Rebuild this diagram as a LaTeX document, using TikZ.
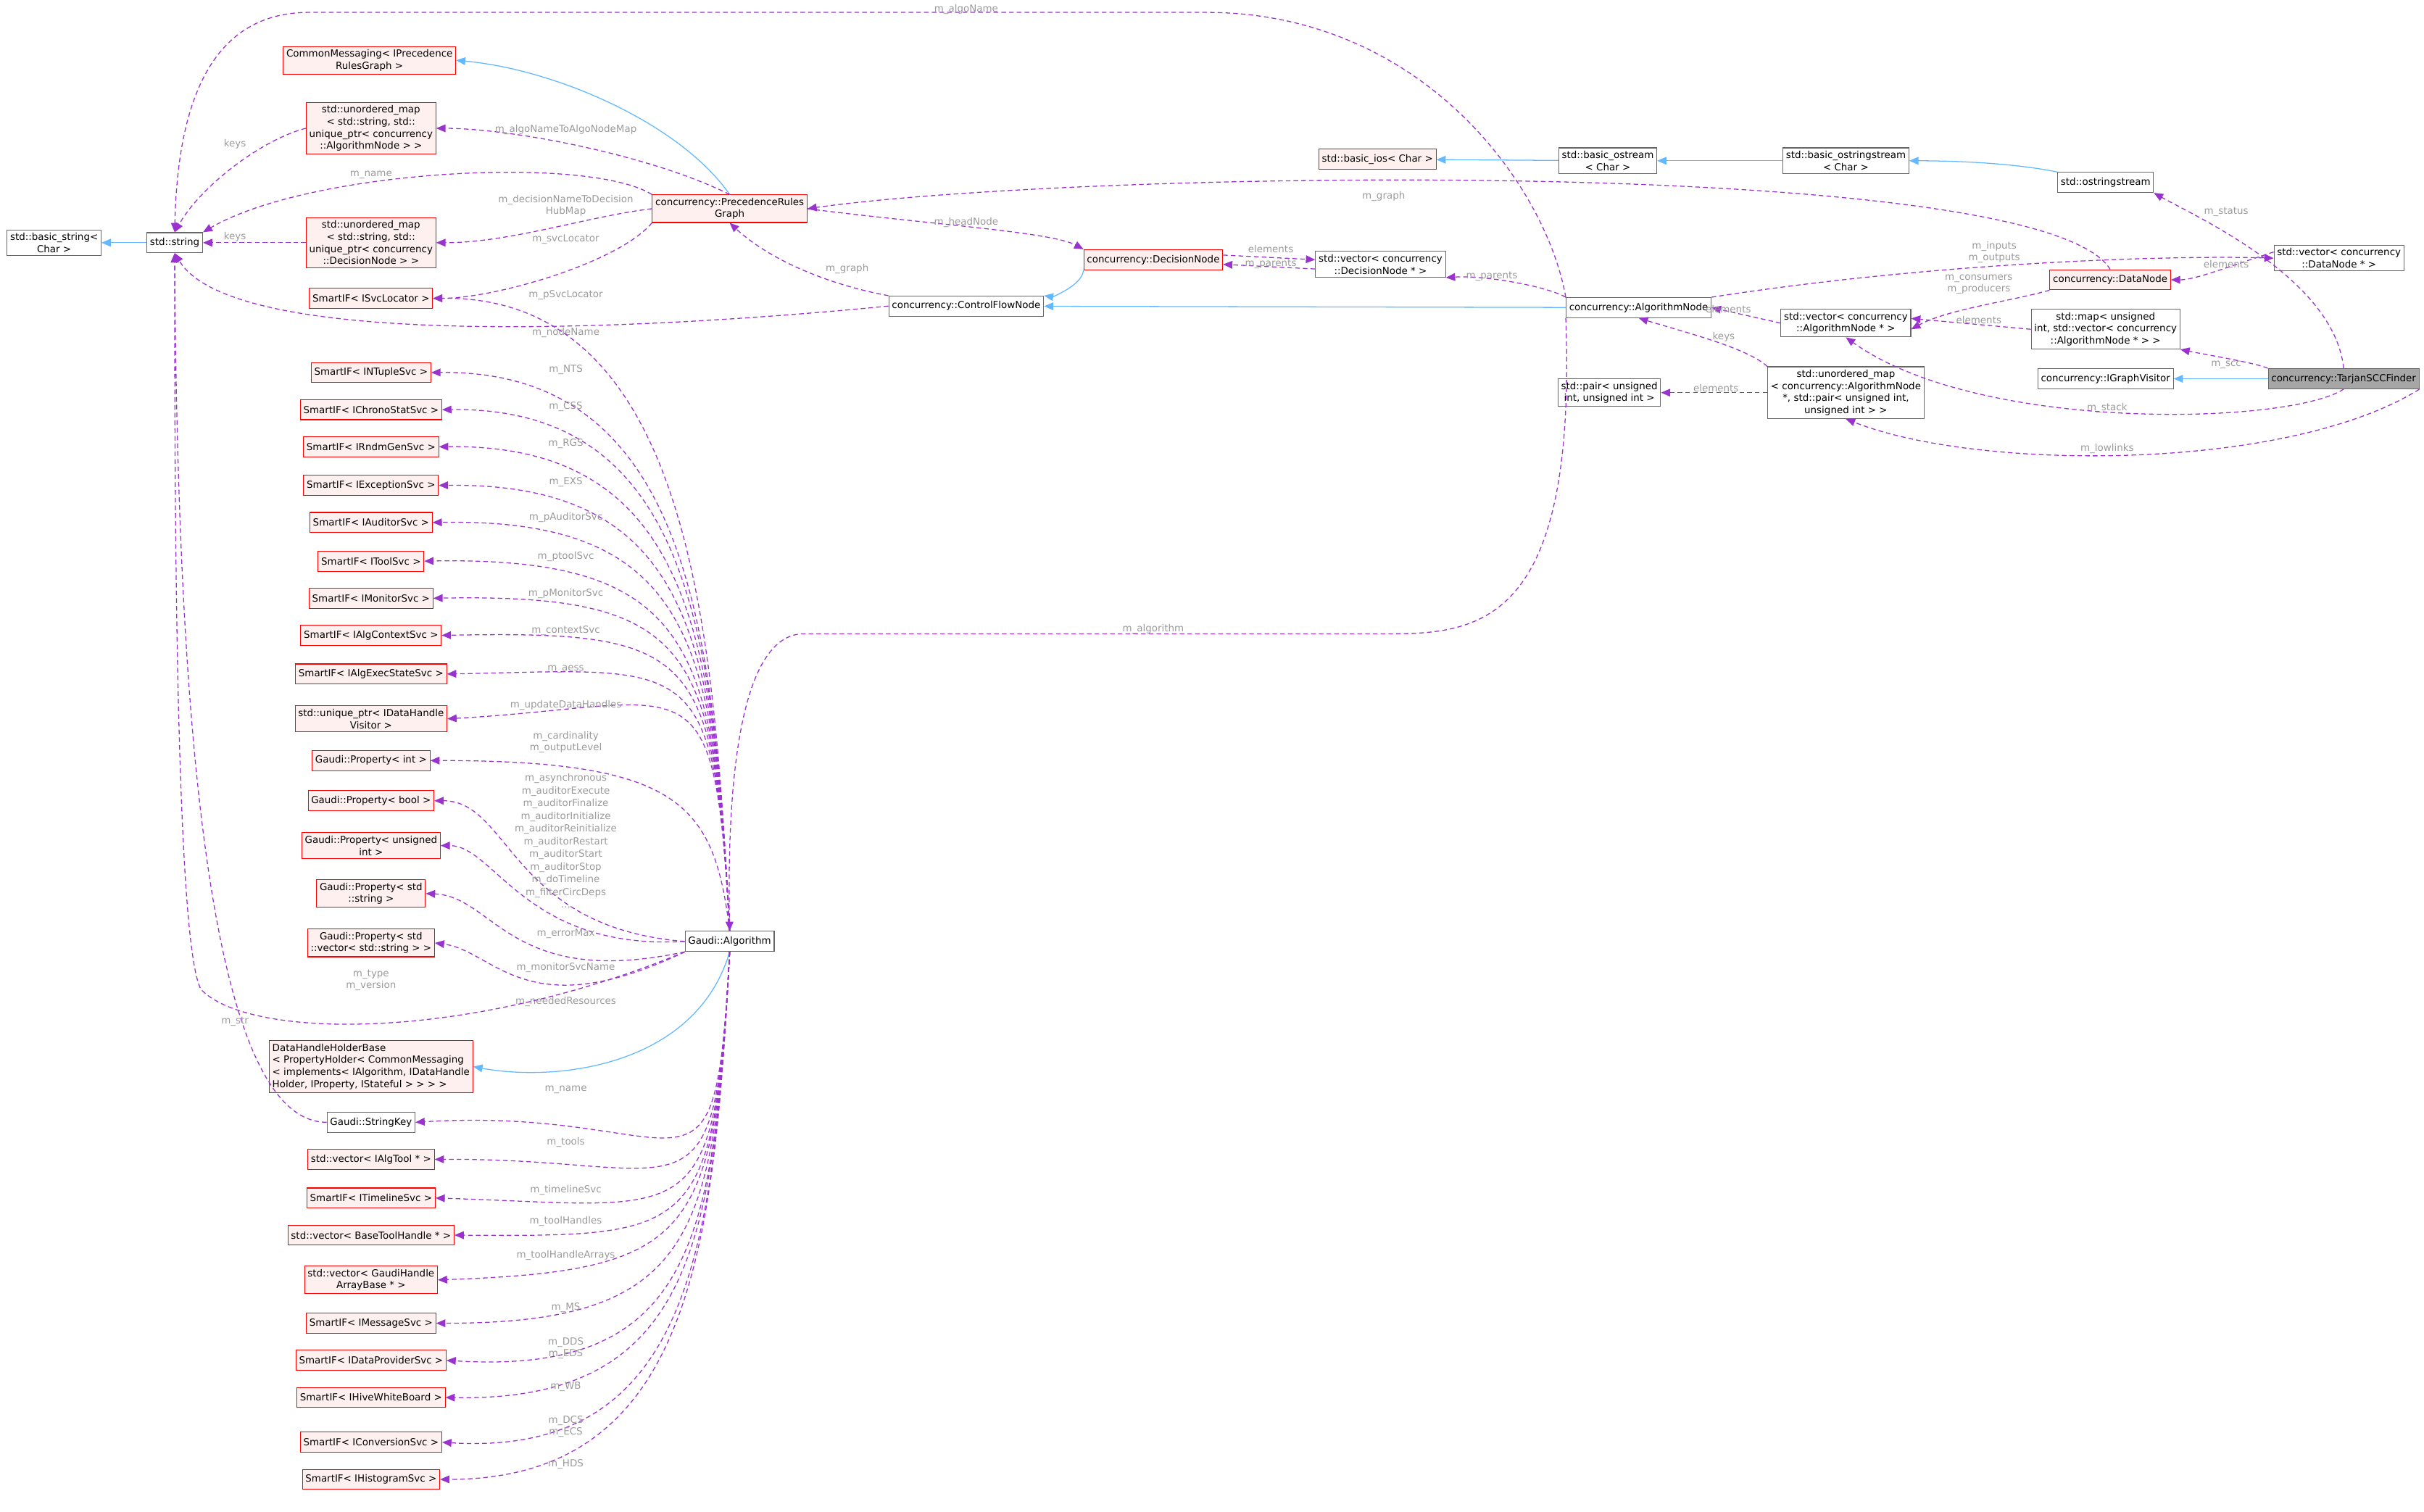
\documentclass[tikz,border=0pt]{standalone}
\usepackage{fontspec}
\setmainfont{DejaVu Sans}
\usetikzlibrary{arrows.meta}
\definecolor{rb}{HTML}{FF0000}
\definecolor{rf}{HTML}{FFF0F0}
\definecolor{gb}{HTML}{666666}
\definecolor{inh}{HTML}{63B8FF}
\definecolor{pu}{HTML}{9A32CD}
\definecolor{lg}{HTML}{9A9A9A}
\tikzset{
 base/.style={draw,line width=0.5pt,inner sep=2pt,minimum height=13pt,align=center,font=\fontsize{6.3}{7.8}\selectfont},
 rbox/.style={base,draw=rb,fill=rf},
 bbox/.style={base,draw=gb,fill=white},
 gbox/.style={base,draw=gb,fill=gray!70},
 inhe/.style={draw=inh,line width=0.6pt,-{Triangle[length=6pt,width=5pt,fill=inh]}},
 dep/.style={draw=pu,line width=0.6pt,dashed,dash pattern=on 3pt off 2pt,-{Triangle[length=6pt,width=5pt,fill=pu]}},
 lbl/.style={text=lg,inner sep=0pt,align=center,font=\fontsize{6.3}{7.6}\selectfont}
}
\begin{document}
\begin{tikzpicture}[x=1pt,y=-1pt]
\useasboundingbox (0,0) rectangle (1568,978);
% left column
\node[bbox] (bstr) at (35,157) {std::basic\_string\textless\\Char \textgreater};
\node[bbox] (str) at (113,157) {std::string};
\node[rbox] (cm) at (239,39) {CommonMessaging\textless{} IPrecedence\\RulesGraph \textgreater};
\node[rbox] (uma) at (240,83) {std::unordered\_map\\\textless{} std::string, std::\\unique\_ptr\textless{} concurrency\\::AlgorithmNode \textgreater{} \textgreater};
\node[rbox] (umd) at (240,157) {std::unordered\_map\\\textless{} std::string, std::\\unique\_ptr\textless{} concurrency\\::DecisionNode \textgreater{} \textgreater};
\node[rbox] (svcl) at (240,193) {SmartIF\textless{} ISvcLocator \textgreater};
\node[rbox] (nts) at (240,241) {SmartIF\textless{} INTupleSvc \textgreater};
\node[rbox] (css) at (240,265) {SmartIF\textless{} IChronoStatSvc \textgreater};
\node[rbox] (rgs) at (240,289) {SmartIF\textless{} IRndmGenSvc \textgreater};
\node[rbox] (exs) at (240,314) {SmartIF\textless{} IExceptionSvc \textgreater};
\node[rbox] (aud) at (240,338) {SmartIF\textless{} IAuditorSvc \textgreater};
\node[rbox] (tool) at (240,363) {SmartIF\textless{} IToolSvc \textgreater};
\node[rbox] (mon) at (240,387) {SmartIF\textless{} IMonitorSvc \textgreater};
\node[rbox] (ctx) at (240,411) {SmartIF\textless{} IAlgContextSvc \textgreater};
\node[rbox] (aess) at (240,436) {SmartIF\textless{} IAlgExecStateSvc \textgreater};
\node[rbox] (udh) at (240,465) {std::unique\_ptr\textless{} IDataHandle\\Visitor \textgreater};
\node[rbox] (pint) at (240,492) {Gaudi::Property\textless{} int \textgreater};
\node[rbox] (pbool) at (240,518) {Gaudi::Property\textless{} bool \textgreater};
\node[rbox] (puns) at (240,547) {Gaudi::Property\textless{} unsigned\\int \textgreater};
\node[rbox] (pstr) at (240,578) {Gaudi::Property\textless{} std\\::string \textgreater};
\node[rbox] (pvec) at (240,610) {Gaudi::Property\textless{} std\\::vector\textless{} std::string \textgreater{} \textgreater};
\node[rbox,align=left] (dhh) at (240,690) {DataHandleHolderBase\\\textless{} PropertyHolder\textless{} CommonMessaging\\\textless{} implements\textless{} IAlgorithm, IDataHandle\\Holder, IProperty, IStateful \textgreater{} \textgreater{} \textgreater{} \textgreater};
\node[bbox] (skey) at (240,726) {Gaudi::StringKey};
\node[rbox] (vtool) at (240,750) {std::vector\textless{} IAlgTool * \textgreater};
\node[rbox] (tl) at (240,775) {SmartIF\textless{} ITimelineSvc \textgreater};
\node[rbox] (vbth) at (240,799) {std::vector\textless{} BaseToolHandle * \textgreater};
\node[rbox] (vgha) at (240,828) {std::vector\textless{} GaudiHandle\\ArrayBase * \textgreater};
\node[rbox] (ms) at (240,856) {SmartIF\textless{} IMessageSvc \textgreater};
\node[rbox] (dds) at (240,880) {SmartIF\textless{} IDataProviderSvc \textgreater};
\node[rbox] (wb) at (240,904) {SmartIF\textless{} IHiveWhiteBoard \textgreater};
\node[rbox] (dcs) at (240,933) {SmartIF\textless{} IConversionSvc \textgreater};
\node[rbox] (hds) at (240,957) {SmartIF\textless{} IHistogramSvc \textgreater};
% middle
\node[rbox] (prg) at (472,135) {concurrency::PrecedenceRules\\Graph};
\node[bbox] (alg) at (472,609) {Gaudi::Algorithm};
\node[bbox] (cfn) at (625,198) {concurrency::ControlFlowNode};
\node[rbox] (dn) at (746,168) {concurrency::DecisionNode};
\node[bbox] (vdn) at (893,171) {std::vector\textless{} concurrency\\::DecisionNode * \textgreater};
\node[rbox] (bios) at (891,103) {std::basic\_ios\textless{} Char \textgreater};
\node[bbox] (bos) at (1040,104) {std::basic\_ostream\\\textless{} Char \textgreater};
\node[bbox] (boss) at (1194,104) {std::basic\_ostringstream\\\textless{} Char \textgreater};
\node[bbox] (oss) at (1362,118) {std::ostringstream};
\node[bbox] (an) at (1060,199) {concurrency::AlgorithmNode};
\node[rbox] (data) at (1365,181) {concurrency::DataNode};
\node[bbox] (vdata) at (1513,167) {std::vector\textless{} concurrency\\::DataNode * \textgreater};
\node[bbox] (van) at (1194,209) {std::vector\textless{} concurrency\\::AlgorithmNode * \textgreater};
\node[bbox] (map) at (1362,213) {std::map\textless{} unsigned\\int, std::vector\textless{} concurrency\\::AlgorithmNode * \textgreater{} \textgreater};
\node[bbox] (igv) at (1362,245) {concurrency::IGraphVisitor};
\node[gbox] (tar) at (1516,245) {concurrency::TarjanSCCFinder};
\node[bbox] (ump) at (1194,254) {std::unordered\_map\\\textless{} concurrency::AlgorithmNode\\ *, std::pair\textless{} unsigned int,\\ unsigned int \textgreater{} \textgreater};
\node[bbox] (pair) at (1041,254) {std::pair\textless{} unsigned\\int, unsigned int \textgreater};
% inheritance
\draw[inhe] (str) -- (bstr);
\draw[inhe] (prg.north) .. controls (440,80) and (360,45) .. (cm.east);
\draw[inhe] (bos) -- (bios);
\draw[inhe] (boss) -- (bos);
\draw[inhe] (oss.north west) .. controls (1300,105) and (1260,104) .. (boss.east);
\draw[inhe] (dn.south west) .. controls (700,185) and (680,192) .. (cfn.north east);
\draw[inhe] (an) -- (cfn);
\draw[inhe] (tar) -- (igv);
\draw[inhe] (alg.south) .. controls (450,690) and (360,700) .. (dhh.east);
% PRG deps
\draw[dep] (an.north west) .. controls (1000,120) and (920,8) .. (780,8) -- (200,8) .. controls (140,8) and (115,60) .. (str.north);
\node[lbl] (l1) at (625,6) {m\_algoName};
\draw[dep] (uma.west) .. controls (170,90) and (130,120) .. (str.north);
\node[lbl] (l2) at (152,93) {keys};
\draw[dep] (umd.west) -- (str.east);
\node[lbl] (l3) at (152,153) {keys};
\draw[dep] (prg.north west) .. controls (380,100) and (200,110) .. (str.north east);
\node[lbl] (l4) at (240,113) {m\_name};
\draw[dep] (prg.north) .. controls (420,100) and (330,83) .. (uma.east);
\node[lbl] (l5) at (366,84) {m\_algoNameToAlgoNodeMap};
\draw[dep] (prg.west) .. controls (380,140) and (330,157) .. (umd.east);
\node[lbl] (l6) at (366,133) {m\_decisionNameToDecision\\HubMap};
\draw[dep] (prg.south west) .. controls (400,170) and (320,193) .. (svcl.east);
\node[lbl] (l7) at (366,155) {m\_svcLocator};
\draw[dep] (prg.east) .. controls (600,145) and (680,150) .. (dn.north west);
\node[lbl] (l8) at (625,144) {m\_headNode};
\draw[dep] (cfn.north west) .. controls (540,185) and (500,170) .. (prg.south);
\node[lbl] (l9) at (548,174) {m\_graph};
\draw[dep] (cfn.west) .. controls (400,215) and (150,225) .. (str.south);
\node[lbl] (l10) at (366,215) {m\_nodeName};
\draw[dep] ([yshift=-3pt]vdn.west) -- ([yshift=-3pt]dn.east);
\node[lbl] (l11) at (822,161) {elements};
\draw[dep] ([yshift=3pt]dn.east) -- ([yshift=3pt]vdn.west);
\node[lbl] (l12) at (822,171) {m\_parents};
\draw[dep] (an.north west) .. controls (1000,185) and (960,178) .. (vdn.south east);
\node[lbl] (l13) at (965,179) {m\_parents};
\draw[dep] (data.north) .. controls (1320,100) and (700,110) .. (prg.east);
\node[lbl] (l14) at (895,127) {m\_graph};
\draw[dep] (an.north east) .. controls (1250,170) and (1400,165) .. (vdata.west);
\node[lbl] (l15) at (1290,163) {m\_inputs\\m\_outputs};
\draw[dep] ([yshift=4pt]vdata.west) .. controls (1440,173) and (1420,181) .. (data.east);
\node[lbl] (l16) at (1440,171) {elements};
\draw[dep] (data.south west) .. controls (1300,195) and (1260,200) .. ([yshift=-4pt]van.east);
\node[lbl] (l17) at (1280,184) {m\_consumers\\m\_producers};
\draw[dep] (van.west) -- (an.east);
\node[lbl] (l18) at (1118,200) {elements};
\draw[dep] (map.west) -- ([yshift=3pt]van.east);
\node[lbl] (l19) at (1280,207) {elements};
\draw[dep] (ump.north west) .. controls (1130,225) and (1090,215) .. (an.south);
\node[lbl] (l20) at (1115,218) {keys};
\draw[dep] (ump.west) -- (pair.east);
\node[lbl] (l21) at (1110,251) {elements};
\draw[dep] (tar.north) .. controls (1510,180) and (1420,140) .. (oss.south east);
\node[lbl] (l22) at (1440,137) {m\_status};
\draw[dep] (tar.north west) .. controls (1460,235) and (1430,230) .. (map.south east);
\node[lbl] (l23) at (1440,236) {m\_scc};
\draw[dep] (tar.south) .. controls (1480,275) and (1280,280) .. (van.south);
\node[lbl] (l24) at (1363,264) {m\_stack};
\draw[dep] (tar.south east) .. controls (1480,305) and (1280,305) .. (ump.south);
\node[lbl] (l25) at (1363,290) {m\_lowlinks};
\draw[dep] (an.south west) .. controls (1020,400) and (960,410) .. (900,410) -- (520,410) .. controls (480,410) and (470,500) .. (alg.north);
\node[lbl] (l26) at (746,407) {m\_algorithm};
% Algorithm deps (up)
\foreach \t/\l/\y in {svcl/m\_pSvcLocator/191,nts/m\_NTS/239,css/m\_CSS/263,rgs/m\_RGS/287,exs/m\_EXS/312,aud/m\_pAuditorSvc/335,tool/m\_ptoolSvc/360,mon/m\_pMonitorSvc/384,ctx/m\_contextSvc/408,aess/m\_aess/433,udh/m\_updateDataHandles/456}{
 \draw[dep] (alg.north) .. controls (462,420) and (450,\y) .. (\t.east);
 \node[lbl] at (366,\y) {\l};
}
\draw[dep] (alg.north) .. controls (462,520) and (440,492) .. (pint.east);
\node[lbl] at (366,480) {m\_cardinality\\m\_outputLevel};
\draw[dep] (alg.west) .. controls (330,600) and (330,518) .. (pbool.east);
\node[lbl,font=\fontsize{6.3}{8.2}\selectfont] at (366,544) {m\_asynchronous\\m\_auditorExecute\\m\_auditorFinalize\\m\_auditorInitialize\\m\_auditorReinitialize\\m\_auditorRestart\\m\_auditorStart\\m\_auditorStop\\m\_doTimeline\\m\_filterCircDeps\\...};
\draw[dep] (alg.west) .. controls (340,615) and (320,547) .. (puns.east);
\node[lbl] at (366,604) {m\_errorMax};
\draw[dep] (alg.south west) .. controls (330,640) and (320,580) .. (pstr.east);
\node[lbl] at (366,626) {m\_monitorSvcName};
\draw[dep] (alg.south west) .. controls (340,665) and (320,615) .. (pvec.east);
\node[lbl] at (366,648) {m\_neededResources};
\coordinate (m1) at (130,640);
\draw[dep] (alg.south west) .. controls (300,675) and (160,672) .. (m1) .. controls (113,610) and (113,300) .. (str.south);
\node[lbl] at (240,634) {m\_type\\m\_version};
\draw[dep] (skey.west) .. controls (140,726) and (115,500) .. (str.south);
\node[lbl] at (152,661) {m\_str};
% Algorithm deps (down)
\foreach \t/\l/\y in {skey/m\_name/705,vtool/m\_tools/739,tl/m\_timelineSvc/770,vbth/m\_toolHandles/790,vgha/m\_toolHandleArrays/812,ms/m\_MS/846,wb/m\_WB/897,hds/m\_HDS/947}{
 \draw[dep] (alg.south) .. controls (462,800) and (450,\y+10) .. (\t.east);
 \node[lbl] at (366,\y) {\l};
}
\draw[dep] (alg.south) .. controls (462,800) and (450,890) .. (dds.east);
\node[lbl] at (366,872) {m\_DDS\\m\_EDS};
\draw[dep] (alg.south) .. controls (462,800) and (450,943) .. (dcs.east);
\node[lbl] at (366,923) {m\_DCS\\m\_ECS};
\end{tikzpicture}
\end{document}
